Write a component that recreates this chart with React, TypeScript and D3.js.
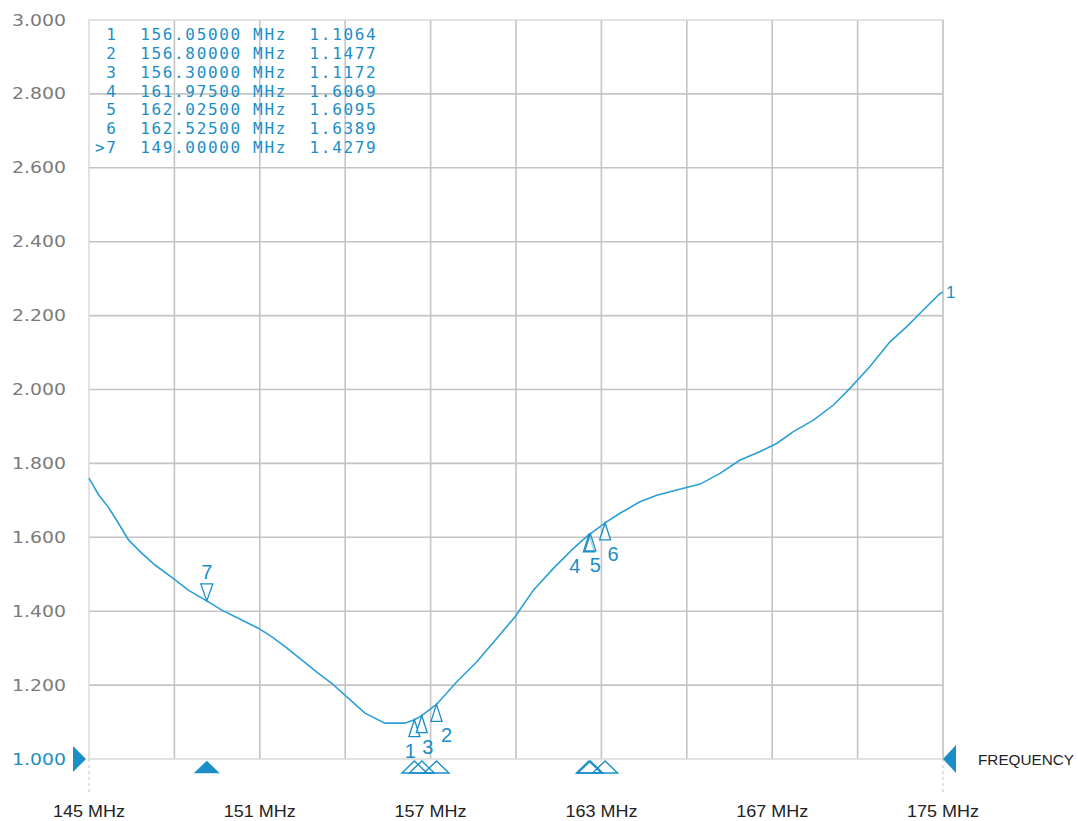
import React from "react";
import * as d3 from "d3";

// ---- data ----
const traceFreq = [
  145.0, 145.32, 145.66, 146.0, 146.34, 146.79, 147.24, 147.86, 148.37, 149.0,
  149.51, 150.19, 150.75, 151.2, 151.66, 152.22, 152.79, 153.24, 153.69, 154.37,
  155.05, 155.73, 156.05, 156.3, 156.8, 157.49, 158.17, 158.85, 159.47, 160.09,
  160.77, 161.45, 161.975, 162.025, 162.525, 163.03, 163.71, 164.28, 164.96, 165.75,
  166.43, 167.11, 167.79, 168.35, 168.92, 169.6, 170.28, 170.84, 171.52, 172.2,
  172.77, 173.33, 173.9, 174.0,
];
const traceVswr = [
  1.76, 1.716, 1.681, 1.638, 1.593, 1.557, 1.525, 1.489, 1.457, 1.4279,
  1.403, 1.376, 1.354, 1.331, 1.304, 1.268, 1.232, 1.205, 1.173, 1.124,
  1.097, 1.097, 1.1064, 1.1172, 1.1477, 1.209, 1.263, 1.327, 1.385, 1.457,
  1.516, 1.57, 1.6069, 1.6095, 1.6389, 1.665, 1.696, 1.714, 1.728, 1.744,
  1.773, 1.809, 1.832, 1.854, 1.886, 1.917, 1.958, 2.003, 2.062, 2.129,
  2.17, 2.215, 2.26, 2.263,
];

const markerIds = ["1", "2", "3", "4", "5", "6", "7"];
const markerFreq = [156.05, 156.8, 156.3, 161.975, 162.025, 162.525, 149.0];
const markerValue = [1.1064, 1.1477, 1.1172, 1.6069, 1.6095, 1.6389, 1.4279];
const activeMarker = "7";

const xTickLabels = ["145 MHz", "151 MHz", "157 MHz", "163 MHz", "167 MHz", "175 MHz"];
const freqRange = [145, 174];
const vswrRange = [1, 3];
const xDivisions = 10;
const yStep = 0.2;

// ---- layout / style ----
const W = 1078;
const H = 821;
const L = 89;
const R = 943;
const T = 20;
const B = 759;
const BLUE = "#2a9fd6";
const TXT_BLUE = "#1b8ec7";
const GRID = "#c4c4c4";
const BORDER = "#d9d9d9";

// label nudges to avoid overlapping marker numbers
const labelDx: Record<string, number> = { "1": -4, "2": 10, "3": 6, "4": -14, "5": 5, "6": 8, "7": 0 };

export default function App() {
  const x = d3.scaleLinear().domain(freqRange).range([L, R]);
  const y = d3.scaleLinear().domain(vswrRange).range([B, T]);
  const div = d3.scaleLinear().domain([0, xDivisions]).range([L, R]);
  const yTicks = d3.range(vswrRange[0], vswrRange[1] + 1e-6, yStep);
  const fmt = d3.format(".3f");

  const line = d3
    .line<number>()
    .x((_, i) => x(traceFreq[i]))
    .y((v) => y(v));

  const rows = markerIds.map(
    (id, i) =>
      `${id === activeMarker ? ">" : " "}${id}  ${markerFreq[i].toFixed(5)} MHz  ${markerValue[i].toFixed(4)}`
  );

  return (
    <svg
      width={W}
      height={H}
      style={{ position: "absolute", left: 0, top: 0, background: "#fff" }}
    >
      <rect x={0} y={0} width={W} height={H} fill="#fff" />
      {/* vertical grid */}
      {d3.range(1, xDivisions).map((d) => (
        <line key={"vx" + d} x1={div(d)} x2={div(d)} y1={T} y2={B} stroke={GRID} strokeWidth={1.6} />
      ))}
      {/* horizontal grid */}
      {yTicks.slice(1, -1).map((t) => (
        <line key={"hy" + t} x1={L} x2={R} y1={y(t)} y2={y(t)} stroke={GRID} strokeWidth={1.6} />
      ))}
      {/* border */}
      <rect x={L} y={T} width={R - L} height={B - T} fill="none" stroke={BORDER} strokeWidth={1.5} />
      <line x1={R} x2={R} y1={T} y2={B} stroke={GRID} strokeWidth={1.5} />
      {/* dashed edges below */}
      <line x1={L} x2={L} y1={B} y2={795} stroke="#cfcfcf" strokeWidth={1.2} strokeDasharray="3,3" />
      <line x1={R} x2={R} y1={B} y2={795} stroke="#cfcfcf" strokeWidth={1.2} strokeDasharray="3,3" />

      {/* y labels */}
      {yTicks.map((t, i) => (
        <text
          key={"yl" + i}
          x={66}
          y={y(t) + 5.5}
          textAnchor="end"
          fontFamily="DejaVu Sans"
          fontSize={15}
          fill={i === 0 ? TXT_BLUE : "#7a7a7a"}
          textLength={54}
          lengthAdjust="spacingAndGlyphs"
        >
          {fmt(t)}
        </text>
      ))}
      {/* reference level arrows */}
      <path d={`M${L - 3},${B} L${L - 16},${B - 13} L${L - 16},${B + 13} Z`} fill="#1a8fc7" />
      <path d={`M${R},${B} L${R + 13},${B - 14} L${R + 13},${B + 14} Z`} fill="#1a8fc7" />
      <text x={978} y={765} fontFamily="Liberation Sans, Arial" fontSize={15} fill="#222" textLength={96} lengthAdjust="spacingAndGlyphs">
        FREQUENCY
      </text>

      {/* x labels */}
      {xTickLabels.map((s, i) => (
        <text
          key={"xl" + i}
          x={div(i * 2)}
          y={817}
          textAnchor="middle"
          fontFamily="Liberation Sans, Arial"
          fontSize={16}
          fill="#222"
          textLength={72}
          lengthAdjust="spacingAndGlyphs"
        >
          {s}
        </text>
      ))}

      {/* marker table */}
      {rows.map((r, i) => (
        <text
          key={"row" + i}
          x={95}
          y={40 + i * 18.85}
          fontFamily="DejaVu Sans Mono"
          fontSize={16}
          letterSpacing={1.66}
          fill={TXT_BLUE}
          style={{ whiteSpace: "pre" }}
        >
          {r}
        </text>
      ))}

      {/* trace */}
      <path d={line(traceVswr) || ""} fill="none" stroke={BLUE} strokeWidth={1.6} />
      <text x={R + 3} y={y(traceVswr[traceVswr.length - 1]) + 6} fontFamily="Liberation Sans, Arial" fontSize={17} fill={TXT_BLUE}>
        1
      </text>

      {/* markers on trace */}
      {markerIds.map((id, i) => {
        const mx = x(markerFreq[i]);
        const my = y(markerValue[i]);
        if (id === activeMarker) {
          return (
            <g key={"m" + id}>
              <path
                d={`M${mx},${my} L${mx - 6},${my - 17} L${mx + 6},${my - 17} Z`}
                fill="#fff"
                fillOpacity={0.6}
                stroke={TXT_BLUE}
                strokeWidth={1.3}
              />
              <text x={mx + labelDx[id]} y={my - 22} textAnchor="middle" fontFamily="Liberation Sans, Arial" fontSize={20} fill={TXT_BLUE}>
                {id}
              </text>
            </g>
          );
        }
        return (
          <g key={"m" + id}>
            <path
              d={`M${mx},${my} L${mx - 5.5},${my + 17} L${mx + 5.5},${my + 17} Z`}
              fill="#fff"
              fillOpacity={0.6}
              stroke={TXT_BLUE}
              strokeWidth={1.3}
            />
            <text x={mx + labelDx[id]} y={my + 38} textAnchor="middle" fontFamily="Liberation Sans, Arial" fontSize={20} fill={TXT_BLUE}>
              {id}
            </text>
          </g>
        );
      })}

      {/* markers along the frequency axis */}
      {markerIds.map((id, i) => {
        const mx = x(markerFreq[i]);
        const active = id === activeMarker;
        return (
          <path
            key={"b" + id}
            d={`M${mx},${B + 2} L${mx - 12.5},${B + 14} L${mx + 12.5},${B + 14} Z`}
            fill={active ? "#1a8fc7" : "none"}
            stroke="#1a8fc7"
            strokeWidth={active ? 0.5 : 1.4}
          />
        );
      })}
    </svg>
  );
}
